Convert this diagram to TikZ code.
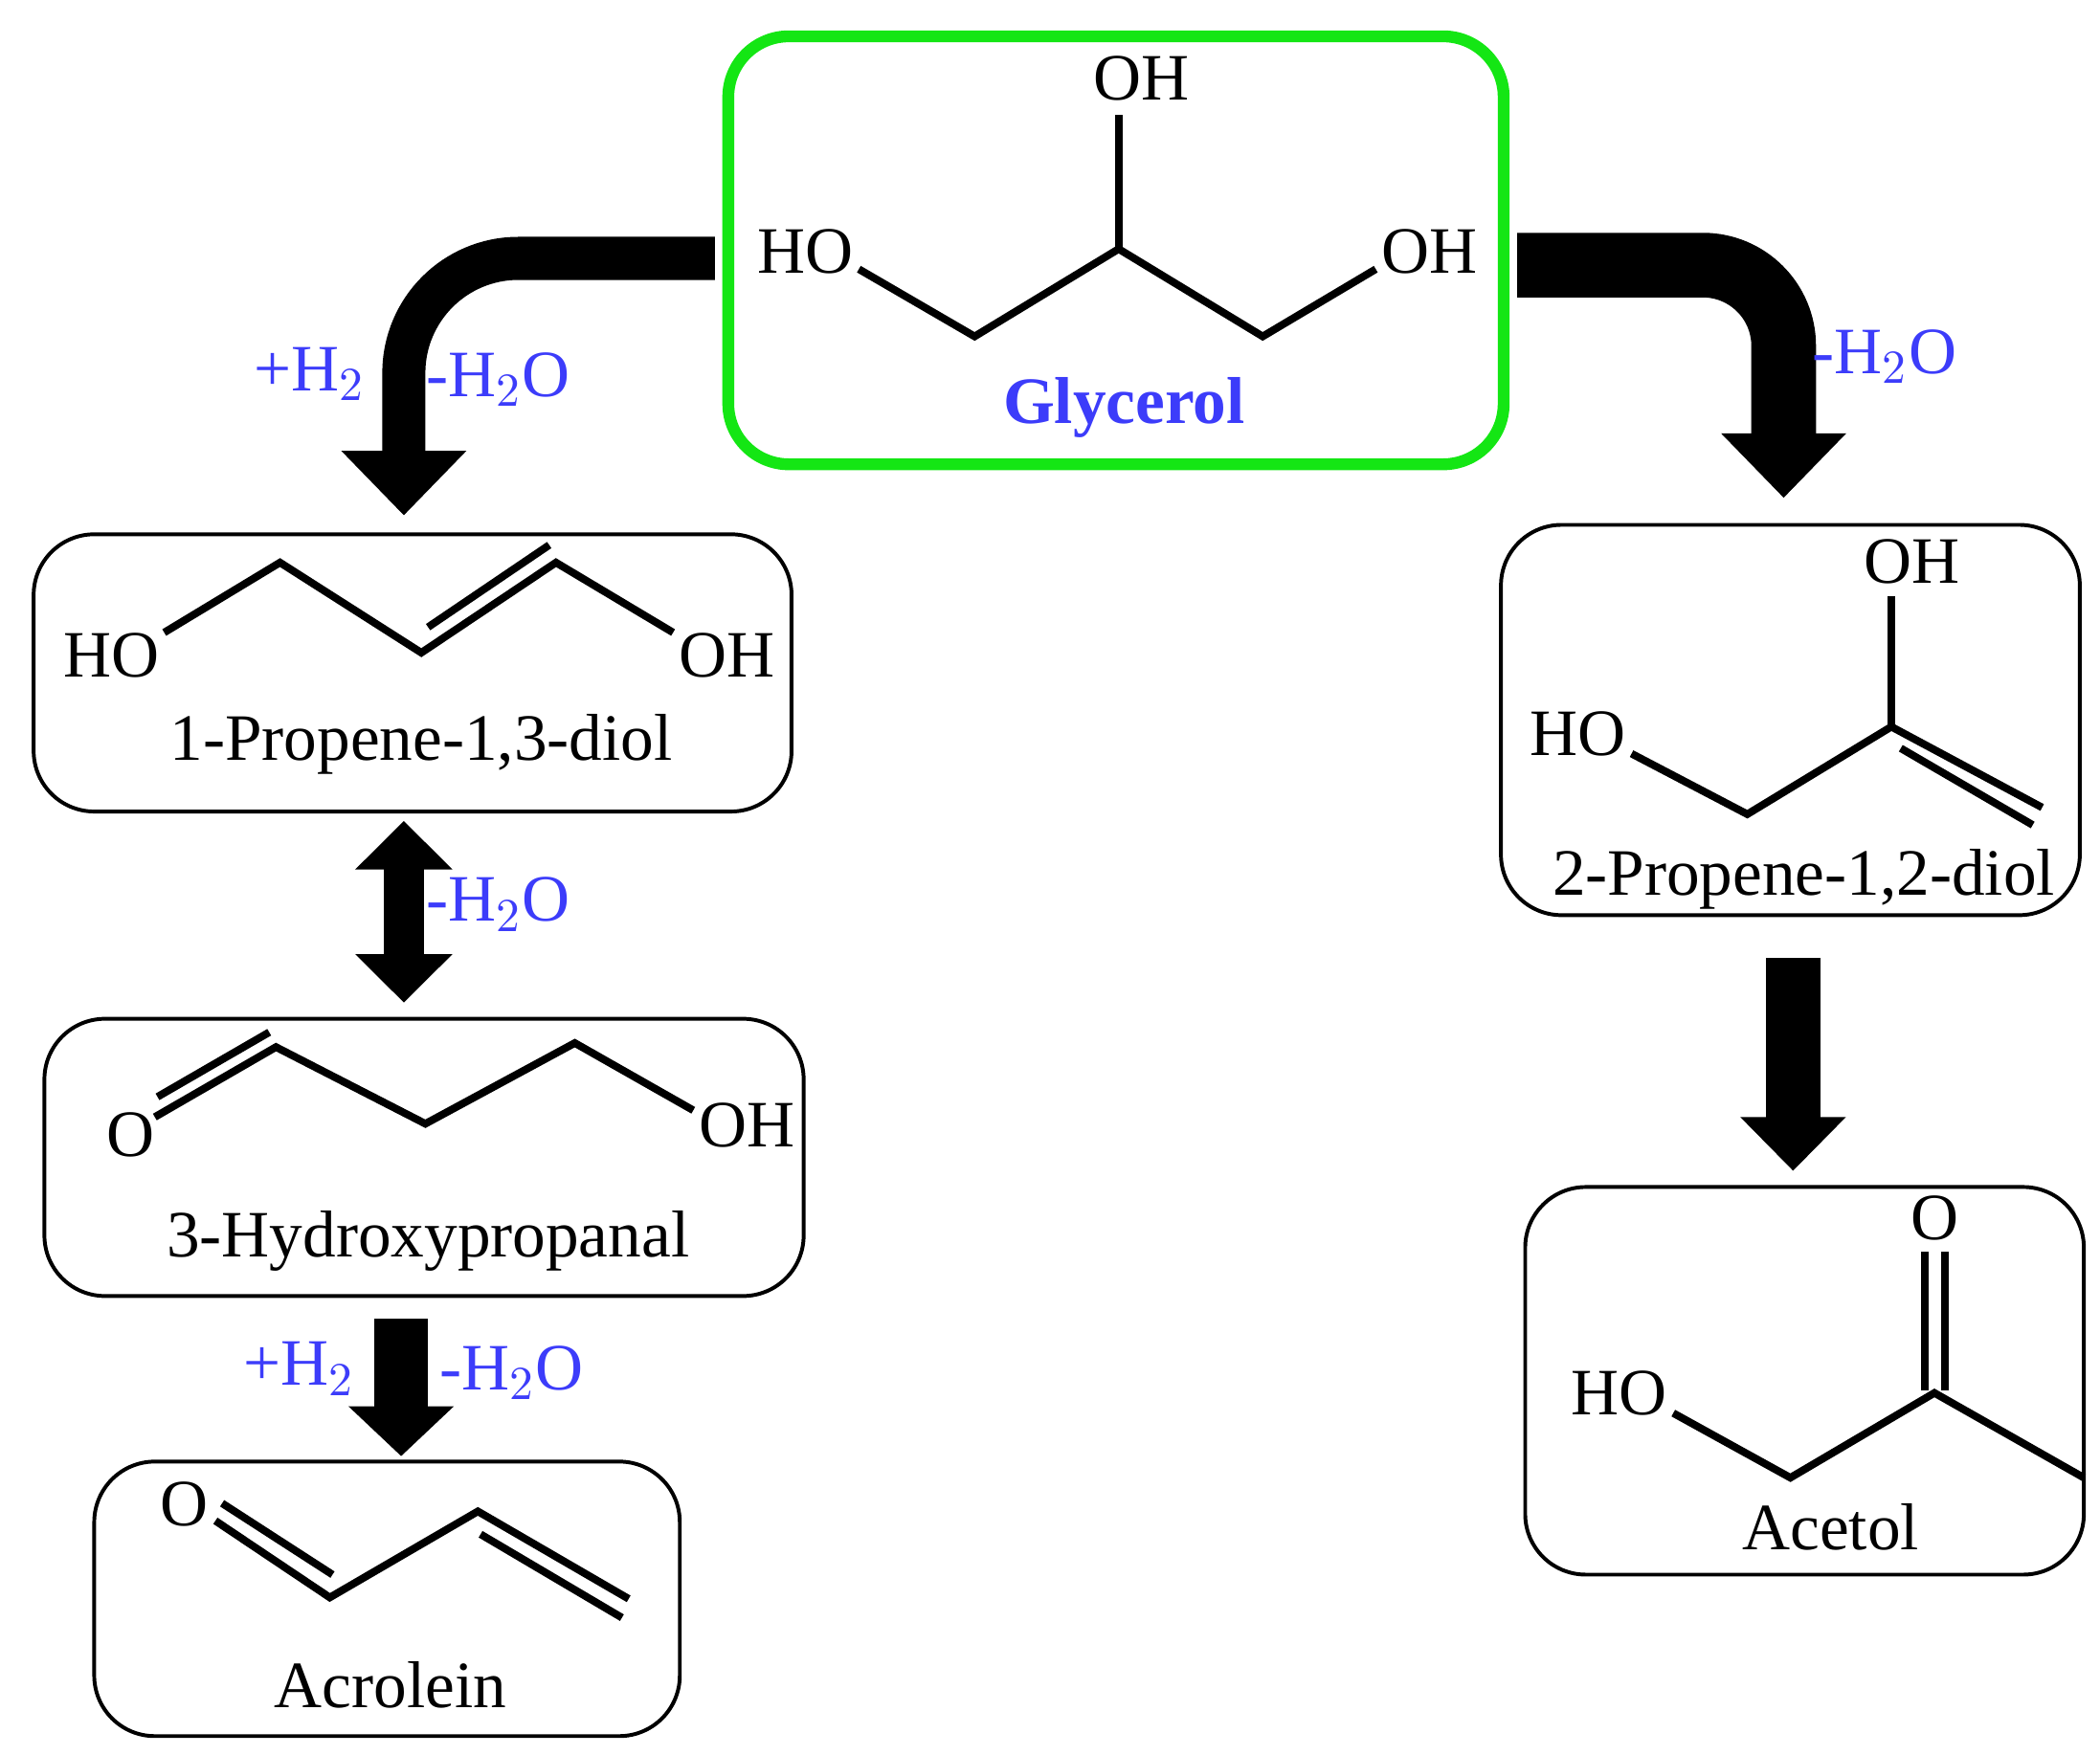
\documentclass[tikz,border=0pt]{standalone}
\usepackage{fontspec}
\setmainfont{Liberation Serif}
\usetikzlibrary{arrows.meta}
\definecolor{lblue}{RGB}{60,60,250}
\definecolor{lgreen}{RGB}{20,230,20}
\begin{document}
\begin{tikzpicture}[x=0.01cm,y=-0.01cm,font=\fontsize{14}{17}\selectfont,
        box/.style={draw,rounded corners=0.45cm,line width=0.8pt},
        atom/.style={inner sep=0pt},
        bond/.style={line width=1.6pt},
        cond/.style={text=lblue,inner sep=0pt},
        flow/.style={line width=#1,-{Triangle[width=0.9cm,length=0.48cm]}}]
    \useasboundingbox (0,0) rectangle (1560,1304);

    % Glycerol
    \draw[box,draw=lgreen,line width=2.5pt] (541,27) rectangle (1117,345);
    \node[atom] (g1) at (598,187) {HO};
    \node[atom] (g2) at (1062,187) {OH};
    \node[atom] (g3) at (848,58) {OH};
    \draw[bond] (638,200) -- (724,250) -- (831,185) -- (938,250) -- (1022,200);
    \draw[bond] (831,185) -- (831,85);
    \node[atom,text=lblue,font=\fontsize{14}{17}\selectfont\bfseries] (glyc) at (835,303) {Glycerol};

    % arrows out of glycerol
    \coordinate (la) at (531,192);
    \coordinate (lb) at (300,383);
    \draw[flow=0.32cm,rounded corners=0.85cm] (la) -- (300,192) -- (lb);
    \node[cond] (l1) at (230,278) {+H$_2$};
    \node[cond] (l2) at (370,282) {-H$_2$O};
    \coordinate (ra) at (1127,197);
    \coordinate (rb) at (1325,370);
    \draw[flow=0.48cm,rounded corners=0.6cm] (ra) -- (1325,197) -- (rb);
    \node[cond] (r1) at (1400,265) {-H$_2$O};

    % 1-Propene-1,3-diol
    \draw[box] (25,397) rectangle (588,603);
    \node[atom] (a1) at (83,487) {HO};
    \node[atom] (a2) at (540,487) {OH};
    \draw[bond] (122,470) -- (208,418) -- (313,485) -- (413,418) -- (500,470);
    \draw[bond] (318,466) -- (408,405);
    \node[atom] (pd1) at (313,553) {1-Propene-1,3-diol};

    \coordinate (da) at (300,610);
    \coordinate (db) at (300,745);
    \draw[line width=0.3cm,{Triangle[width=0.7cm,length=0.36cm]}-{Triangle[width=0.7cm,length=0.36cm]}] (da) -- (db);
    \node[cond] (d1) at (370,672) {-H$_2$O};

    % 3-Hydroxypropanal
    \draw[box] (33,757) rectangle (597,963);
    \node[atom] (b1) at (97,843) {O};
    \node[atom] (b2) at (555,836) {OH};
    \draw[bond] (115,830) -- (205,778) -- (316,835) -- (427,775) -- (515,825);
    \draw[bond] (117,815) -- (200,767);
    \node[atom] (hp) at (318,922) {3-Hydroxypropanal};

    \coordinate (ea) at (298,980);
    \coordinate (eb) at (298,1082);
    \draw[flow=0.4cm,-{Triangle[width=0.76cm,length=0.37cm]}] (ea) -- (eb);
    \node[cond] (e1) at (222,1017) {+H$_2$};
    \node[cond] (e2) at (380,1020) {-H$_2$O};

    % Acrolein
    \draw[box] (70,1086) rectangle (505,1290);
    \node[atom] (c1) at (137,1118) {O};
    \draw[bond] (160,1130) -- (245,1187) -- (355,1123) -- (467,1188);
    \draw[bond] (165,1117) -- (247,1170);
    \draw[bond] (357,1140) -- (462,1202);
    \node[atom] (acr) at (290,1252) {Acrolein};

    % 2-Propene-1,2-diol
    \draw[box] (1115,390) rectangle (1545,680);
    \node[atom] (f1) at (1420,417) {OH};
    \node[atom] (f2) at (1172,545) {HO};
    \draw[bond] (1405,443) -- (1405,540);
    \draw[bond] (1212,560) -- (1298,605) -- (1405,540) -- (1517,600);
    \draw[bond] (1412,556) -- (1510,613);
    \node[atom] (pd2) at (1340,653) {2-Propene-1,2-diol};

    \coordinate (ga) at (1332,712);
    \coordinate (gb) at (1332,870);
    \draw[flow=0.4cm,-{Triangle[width=0.76cm,length=0.4cm]}] (ga) -- (gb);

    % Acetol
    \draw[box] (1133,882) rectangle (1548,1170);
    \node[atom] (h1) at (1437,905) {O};
    \node[atom] (h2) at (1203,1035) {HO};
    \draw[bond] (1430,930) -- (1430,1033);
    \draw[bond] (1445,930) -- (1445,1033);
    \draw[bond] (1243,1050) -- (1330,1098) -- (1437,1035) -- (1548,1098);
    \node[atom] (act) at (1360,1135) {Acetol};
\end{tikzpicture}
\end{document}
